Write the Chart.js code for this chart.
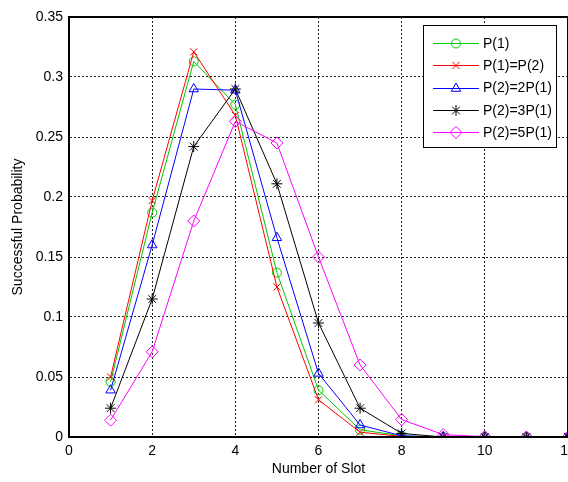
<!DOCTYPE html>
<html>
<head>
<meta charset="utf-8">
<title>Successful Probability</title>
<script src="https://cdn.jsdelivr.net/npm/chart.js@4/dist/chart.umd.min.js"></script>
<style>
  html, body { margin: 0; padding: 0; background: #fff; overflow: hidden; }
  #wrap { position: relative; width: 600px; height: 482px; }
</style>
</head>
<body>
<div id="wrap"><canvas id="slotChart" width="600" height="482"></canvas></div>
<script>
/* ── DATA ── */
const slots = [1, 2, 3, 4, 5, 6, 7, 8, 9, 10, 11, 12];
const seriesNames = ['P(1)', 'P(1)=P(2)', 'P(2)=2P(1)', 'P(2)=3P(1)', 'P(2)=5P(1)'];
const pEqual1 = [0.046, 0.187, 0.313, 0.277, 0.137, 0.039, 0.006, 0.001, 0, 0, 0, 0];
const pEqual2 = [0.050, 0.197, 0.321, 0.268, 0.125, 0.031, 0.004, 0.0005, 0, 0, 0, 0];
const pDouble = [0.039, 0.160, 0.290, 0.289, 0.166, 0.053, 0.010, 0.001, 0, 0, 0, 0];
const pTriple = [0.024, 0.115, 0.242, 0.290, 0.211, 0.095, 0.024, 0.003, 0, 0, 0, 0];
const pFive   = [0.014, 0.071, 0.180, 0.263, 0.245, 0.150, 0.060, 0.0145, 0.002, 0.0003, 0, 0];
const xTicks = [0, 2, 4, 6, 8, 10, 12];
const yTicks = [0, 0.05, 0.1, 0.15, 0.2, 0.25, 0.3, 0.35];

const FONT = '"Liberation Sans", Arial, Helvetica, sans-serif';

const styles = [
  { color: '#00c800', point: 'circle',   radius: 4.5 },
  { color: '#ff0000', point: 'crossRot', radius: 5 },
  { color: '#0000ff', point: 'triangle', radius: 5.5 },
  { color: '#000000', point: 'star',     radius: 5.5 },
  { color: '#ff00ff', point: 'rectRot',  radius: 6 }
];
const allSeries = [pEqual1, pEqual2, pDouble, pTriple, pFive];

const datasets = allSeries.map((vals, i) => ({
  label: seriesNames[i],
  data: slots.map((s, k) => ({ x: s, y: vals[k] })),
  borderColor: styles[i].color,
  backgroundColor: 'rgba(0,0,0,0)',
  pointBorderColor: styles[i].color,
  pointBackgroundColor: 'rgba(0,0,0,0)',
  pointStyle: styles[i].point,
  pointRadius: styles[i].radius,
  pointBorderWidth: 1,
  borderWidth: 1,
  tension: 0,
  fill: false,
  order: allSeries.length - i
}));

/* ── PLUGINS: box + legend ── */
const boxPlugin = {
  id: 'matlabBox',
  afterDatasetsDraw(chart) {
    const { ctx, chartArea: a } = chart;
    ctx.save();
    ctx.strokeStyle = '#000';
    ctx.lineWidth = 2;
    ctx.strokeRect(Math.round(a.left), Math.round(a.top),
      Math.round(a.right - a.left), Math.round(a.bottom - a.top));
    ctx.restore();
  }
};

const legendPlugin = {
  id: 'matlabLegend',
  afterDraw(chart) {
    const ctx = chart.ctx;
    const bx = 423, by = 25, bw = 133, bh = 122;
    ctx.save();
    ctx.fillStyle = '#fff';
    ctx.fillRect(bx, by, bw, bh);
    ctx.strokeStyle = '#000';
    ctx.lineWidth = 1;
    ctx.strokeRect(bx + 0.5, by + 0.5, bw, bh);
    ctx.font = '14px ' + FONT;
    ctx.textBaseline = 'middle';
    ctx.textAlign = 'left';
    seriesNames.forEach((name, i) => {
      const y = 43 + i * 22.3;
      ctx.strokeStyle = styles[i].color;
      ctx.lineWidth = 1;
      ctx.beginPath();
      ctx.moveTo(433, Math.round(y) + 0.5);
      ctx.lineTo(479, Math.round(y) + 0.5);
      ctx.stroke();
      if (Chart.helpers && Chart.helpers.drawPoint) {
        ctx.fillStyle = 'rgba(0,0,0,0)';
        Chart.helpers.drawPoint(ctx, {
          pointStyle: styles[i].point, radius: styles[i].radius, rotation: 0, borderWidth: 1
        }, 456, Math.round(y) + 0.5);
      }
      ctx.fillStyle = '#000';
      ctx.fillText(name, 483, y + 1);
    });
    ctx.restore();
  }
};

/* ── CHART ── */
const ctx = document.getElementById('slotChart').getContext('2d');
new Chart(ctx, {
  type: 'line',
  data: { datasets },
  plugins: [boxPlugin, legendPlugin],
  options: {
    responsive: false,
    animation: false,
    devicePixelRatio: 1,
    layout: { padding: { left: 0, top: 17, right: 32, bottom: 0 } },
    plugins: { legend: { display: false }, tooltip: { enabled: false } },
    scales: {
      x: {
        type: 'linear', min: 0, max: 12,
        afterBuildTicks: s => { s.ticks = xTicks.map(v => ({ value: v })); },
        afterFit: s => { s.height = 45; },
        grid: { color: '#222', lineWidth: 1, drawTicks: false },
        border: { display: true, color: '#000', width: 1, dash: [2, 2] },
        ticks: { color: '#000', font: { family: FONT, size: 14 }, padding: 6, maxRotation: 0 },
        title: { display: true, text: 'Number of Slot', color: '#000',
                 font: { family: FONT, size: 14 }, padding: { top: 0, bottom: 4 } }
      },
      y: {
        type: 'linear', min: 0, max: 0.35,
        afterBuildTicks: s => { s.ticks = yTicks.map(v => ({ value: v })); },
        afterFit: s => { s.width = 69; },
        grid: { color: '#222', lineWidth: 1, drawTicks: false },
        border: { display: true, color: '#000', width: 1, dash: [2, 2] },
        ticks: { color: '#000', font: { family: FONT, size: 14 }, padding: 6,
                 callback: v => String(Number(v.toFixed(2))) },
        title: { display: true, text: 'Successful Probability', color: '#000',
                 font: { family: FONT, size: 14 }, padding: { top: 10, bottom: 0 } }
      }
    }
  }
});
</script>
</body>
</html>
